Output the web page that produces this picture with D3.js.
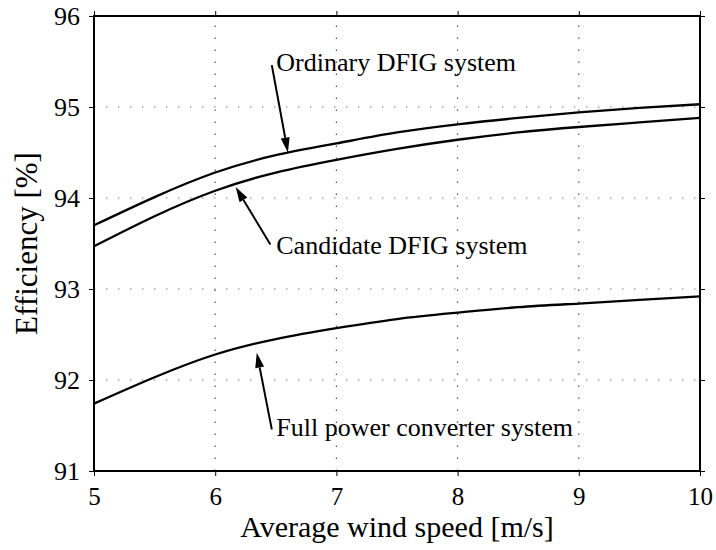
<!DOCTYPE html>
<html>
<head>
<meta charset="utf-8">
<script src="https://cdn.jsdelivr.net/npm/d3@7"></script>
<style>
  html, body { margin: 0; padding: 0; background: #fff; }
  svg text { font-family: "Liberation Serif", "Times New Roman", serif; fill: #000; }
</style>
</head>
<body>
<svg id="chart" width="716" height="550"></svg>
<script>
// Average wind speed [m/s]
const windSpeed = [5, 5.5, 6, 6.5, 7, 7.5, 8, 8.5, 9, 9.5, 10];
// Efficiency [%] per system
const ordinaryDFIG  = [93.70, 94.01, 94.28, 94.47, 94.60, 94.72, 94.81, 94.88, 94.94, 94.99, 95.03];
const candidateDFIG = [93.47, 93.80, 94.08, 94.28, 94.42, 94.54, 94.64, 94.72, 94.78, 94.83, 94.88];
const fullConverter = [91.74, 92.03, 92.28, 92.45, 92.57, 92.67, 92.74, 92.80, 92.84, 92.88, 92.92];

const xTicks = [5, 6, 7, 8, 9, 10];
const yTicks = [91, 92, 93, 94, 95, 96];

// Annotation labels with arrows (data coordinates)
const labelNames = ["Ordinary DFIG system", "Candidate DFIG system", "Full power converter system"];
const labelX     = [6.504, 6.504, 6.504];
const labelY     = [95.395, 93.39, 91.39];
const arrowTailX = [6.467, 6.455, 6.467];
const arrowTailY = [95.46, 93.49, 91.457];
const arrowTipX  = [6.60, 6.169, 6.343];
const arrowTipY  = [94.50, 94.12, 92.30];

const svg = d3.select("#chart");
const margin = { left: 94, right: 16, top: 16, bottom: 79 };
const W = 716, H = 550;

const x = d3.scaleLinear().domain([5, 10]).range([margin.left, W - margin.right]);
const y = d3.scaleLinear().domain([91, 96]).range([H - margin.bottom, margin.top]);

const x0 = x.range()[0], x1 = x.range()[1];
const y0 = y.range()[0], y1 = y.range()[1];

// dotted grid
const grid = svg.append("g");
grid.selectAll("line.vg").data(xTicks.slice(1, -1)).join("line")
  .attr("x1", d => x(d)).attr("x2", d => x(d))
  .attr("y1", y0).attr("y2", y1)
  .attr("stroke", "#555").attr("stroke-width", 1.2)
  .attr("stroke-dasharray", "1.4,10.6");
grid.selectAll("line.hg").data(yTicks.slice(1, -1)).join("line")
  .attr("x1", x0).attr("x2", x1)
  .attr("y1", d => y(d)).attr("y2", d => y(d))
  .attr("stroke", "#777").attr("stroke-width", 1.2)
  .attr("stroke-dasharray", "1.4,10.6");

// axes (ticks outward on all four sides)
const fontSize = 26;
const axisBottomG = svg.append("g").attr("transform", `translate(0,${y0})`)
  .call(d3.axisBottom(x).tickValues(xTicks).tickFormat(d3.format("d")).tickSize(5).tickSizeOuter(0).tickPadding(11));
const axisLeftG = svg.append("g").attr("transform", `translate(${x0},0)`)
  .call(d3.axisLeft(y).tickValues(yTicks).tickFormat(d3.format("d")).tickSize(5).tickSizeOuter(0).tickPadding(9));
const axisTopG = svg.append("g").attr("transform", `translate(0,${y1})`)
  .call(d3.axisTop(x).tickValues(xTicks).tickFormat("").tickSize(5).tickSizeOuter(0));
const axisRightG = svg.append("g").attr("transform", `translate(${x1},0)`)
  .call(d3.axisRight(y).tickValues(yTicks).tickFormat("").tickSize(5).tickSizeOuter(0));

[axisBottomG, axisLeftG, axisTopG, axisRightG].forEach(g => {
  g.select(".domain").remove();
  g.selectAll(".tick line").attr("stroke", "#000").attr("stroke-width", 1);
  g.selectAll(".tick text")
    .style("font-family", '"Liberation Serif", "Times New Roman", serif')
    .style("font-size", fontSize + "px").attr("fill", "#000");
});
axisBottomG.selectAll(".tick text").style("font-size", "25px");

// plot frame
svg.append("rect")
  .attr("x", x0).attr("y", y1)
  .attr("width", x1 - x0).attr("height", y0 - y1)
  .attr("fill", "none").attr("stroke", "#000").attr("stroke-width", 2);

// curves
const line = d3.line()
  .x((d, i) => x(windSpeed[i]))
  .y(d => y(d))
  .curve(d3.curveNatural);

[ordinaryDFIG, candidateDFIG, fullConverter].forEach(series => {
  svg.append("path").datum(series)
    .attr("d", line)
    .attr("fill", "none").attr("stroke", "#000").attr("stroke-width", 2.3)
    .attr("stroke-linejoin", "round");
});

// annotation arrows
const headLen = 15, headHalf = 4.5;
labelNames.forEach((name, i) => {
  const tx = x(arrowTailX[i]), ty = y(arrowTailY[i]);
  const px = x(arrowTipX[i]), py = y(arrowTipY[i]);
  const dx = px - tx, dy = py - ty;
  const len = Math.hypot(dx, dy);
  const ux = dx / len, uy = dy / len;
  const bx = px - ux * headLen, by = py - uy * headLen;
  svg.append("line")
    .attr("x1", tx).attr("y1", ty).attr("x2", bx).attr("y2", by)
    .attr("stroke", "#000").attr("stroke-width", 2);
  svg.append("path")
    .attr("d", `M${px},${py}L${bx - uy * headHalf},${by + ux * headHalf}L${bx + uy * headHalf},${by - ux * headHalf}Z`)
    .attr("fill", "#000");
  svg.append("text")
    .attr("x", x(labelX[i])).attr("y", y(labelY[i]))
    .style("font-size", fontSize + "px")
    .text(name);
});

// axis titles
svg.append("text")
  .attr("x", (x0 + x1) / 2).attr("y", 537)
  .attr("text-anchor", "middle")
  .style("font-size", "30px")
  .text("Average wind speed [m/s]");
svg.append("text")
  .attr("transform", `translate(37,${(y0 + y1) / 2}) rotate(-90)`)
  .attr("text-anchor", "middle")
  .style("font-size", "31px")
  .text("Efficiency [%]");
</script>
</body>
</html>
